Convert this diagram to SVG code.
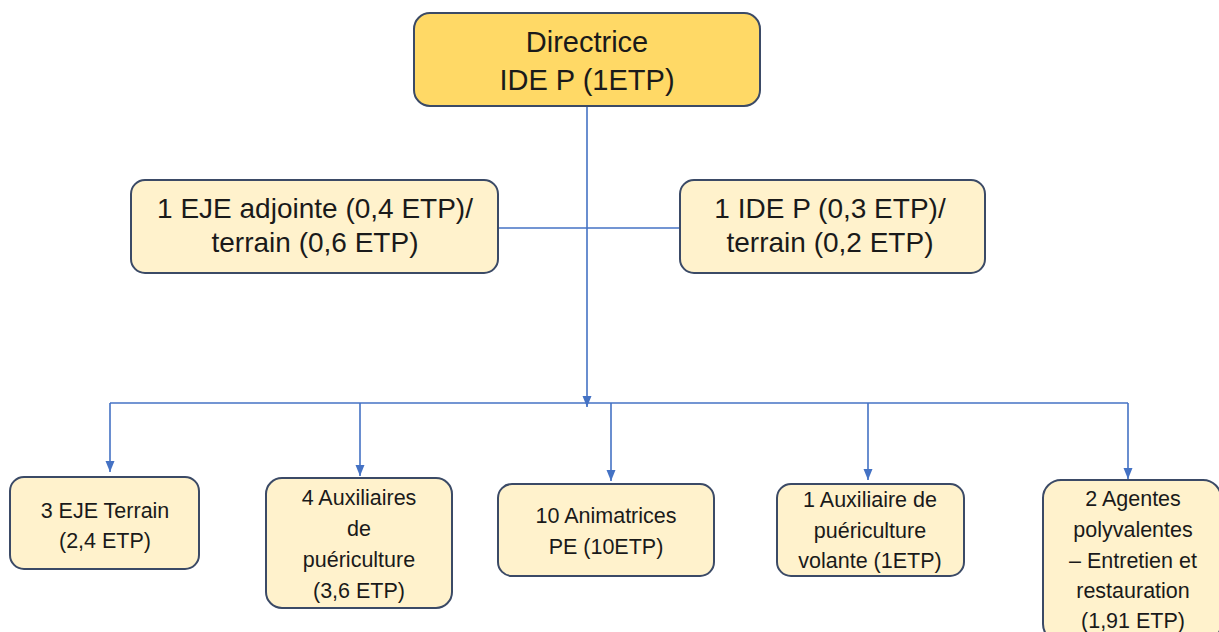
<svg xmlns="http://www.w3.org/2000/svg" width="1219" height="632" viewBox="0 0 1219 632">
<style>
.box{fill:#FFF2CC;stroke:#3B4A66;stroke-width:2}
.top{fill:#FFD966;stroke:#3B4A66;stroke-width:2}
.t{font-family:"Liberation Sans",Arial,sans-serif;fill:#1a1a1a;text-anchor:middle}
.lg{font-size:29px}
.md{font-size:28px}
.sm{font-size:21.5px}
.c{stroke:#4472C4;stroke-width:1.6;fill:none}
</style>
<defs>
<marker id="ah" markerUnits="userSpaceOnUse" markerWidth="12" markerHeight="12" viewBox="0 0 12 12" refX="11" refY="6" orient="auto">
<path d="M0,1.5 L11,6 L0,10.5 Z" fill="#4472C4"/>
</marker>
</defs>
<rect width="1219" height="632" fill="#ffffff"/>
<g id="connectors">
<line class="c" x1="587" y1="106" x2="587" y2="407" marker-end="url(#ah)"/>
<line class="c" x1="498" y1="228" x2="680" y2="228"/>
<line class="c" x1="110" y1="403" x2="1128" y2="403"/>
<line class="c" x1="110" y1="403" x2="110" y2="472" marker-end="url(#ah)"/>
<line class="c" x1="360" y1="403" x2="360" y2="476" marker-end="url(#ah)"/>
<line class="c" x1="611" y1="403" x2="611" y2="481" marker-end="url(#ah)"/>
<line class="c" x1="868" y1="403" x2="868" y2="480" marker-end="url(#ah)"/>
<line class="c" x1="1128" y1="403" x2="1128" y2="479" marker-end="url(#ah)"/>
</g>
<g id="directrice">
<rect class="top" x="414" y="13" width="346" height="93" rx="16"/>
<text class="t lg" x="587" y="52">Directrice</text>
<text class="t lg" x="587" y="90">IDE P (1ETP)</text>
</g>
<g id="eje-adjointe">
<rect class="box" x="131" y="180" width="367" height="93" rx="14"/>
<text class="t md" x="315" y="218">1 EJE adjointe (0,4 ETP)/</text>
<text class="t md" x="315" y="252">terrain (0,6 ETP)</text>
</g>
<g id="ide-p">
<rect class="box" x="680" y="180" width="305" height="93" rx="14"/>
<text class="t md" x="830" y="218">1 IDE P (0,3 ETP)/</text>
<text class="t md" x="830" y="252">terrain (0,2 ETP)</text>
</g>
<g id="eje-terrain">
<rect class="box" x="10" y="477" width="189" height="92" rx="14"/>
<text class="t sm" x="105" y="518">3 EJE Terrain</text>
<text class="t sm" x="105" y="548">(2,4 ETP)</text>
</g>
<g id="auxiliaires">
<rect class="box" x="266" y="478" width="186" height="130" rx="16"/>
<text class="t sm" x="359" y="505">4 Auxiliaires</text>
<text class="t sm" x="359" y="536">de</text>
<text class="t sm" x="359" y="567">puériculture</text>
<text class="t sm" x="359" y="598">(3,6 ETP)</text>
</g>
<g id="animatrices">
<rect class="box" x="498" y="484" width="216" height="92" rx="14"/>
<text class="t sm" x="606" y="523">10 Animatrices</text>
<text class="t sm" x="606" y="554">PE (10ETP)</text>
</g>
<g id="auxiliaire-volante">
<rect class="box" x="777" y="484" width="187" height="92" rx="14"/>
<text class="t sm" x="870" y="507">1 Auxiliaire de</text>
<text class="t sm" x="870" y="538">puériculture</text>
<text class="t sm" x="870" y="568">volante (1ETP)</text>
</g>
<g id="agentes">
<rect class="box" x="1043" y="480" width="178" height="162" rx="18"/>
<text class="t sm" x="1133" y="506">2 Agentes</text>
<text class="t sm" x="1133" y="537">polyvalentes</text>
<text class="t sm" x="1133" y="568">– Entretien et</text>
<text class="t sm" x="1133" y="598">restauration</text>
<text class="t sm" x="1133" y="628">(1,91 ETP)</text>
</g>
</svg>
